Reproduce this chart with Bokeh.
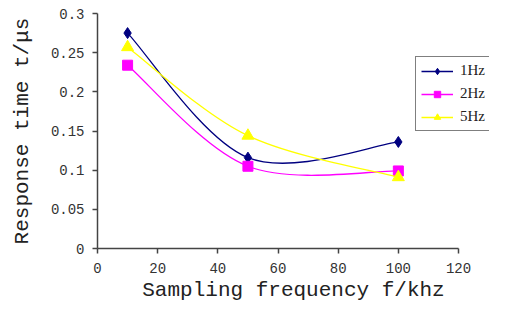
from bokeh.plotting import figure
from bokeh.models import Legend, LegendItem, FixedTicker, ColumnDataSource
from bokeh.embed import file_html
from bokeh.resources import INLINE

# ---- data ----
freq = [10, 50, 100]
series_names = ["1Hz", "2Hz", "5Hz"]
t_1hz = [0.275, 0.116, 0.136]
t_2hz = [0.234, 0.105, 0.099]
t_5hz = [0.257, 0.144, 0.091]
x_ticks = [0, 20, 40, 60, 80, 100, 120]
y_ticks = [0, 0.05, 0.1, 0.15, 0.2, 0.25, 0.3]
y_tick_labels = ["0", "0.05", "0.1", "0.15", "0.2", "0.25", "0.3"]

colors = ["#000080", "#FF00FF", "#FFFF00"]
markers = ["diamond", "square", "triangle"]
msizes = [11, 10, 12]

# frame extends right of x=120 (axis bounded to 0..120) so the legend can sit there
p = figure(width=489, height=306, output_backend="svg", toolbar_location=None,
           x_range=(0, 130.3), y_range=(0, 0.3),
           min_border_left=97, min_border_right=0, min_border_top=13, min_border_bottom=58)
p.outline_line_color = None
p.xgrid.visible = False
p.ygrid.visible = False
p.background_fill_color = "white"


def smooth_segments(xs, ys):
    # smoothed line: cubic Bezier segments through the data points
    n = len(xs)
    out = dict(x0=[], y0=[], x1=[], y1=[], cx0=[], cy0=[], cx1=[], cy1=[])
    for i in range(n - 1):
        i0 = max(i - 1, 0)
        i3 = min(i + 2, n - 1)
        out["x0"].append(xs[i]); out["y0"].append(ys[i])
        out["x1"].append(xs[i + 1]); out["y1"].append(ys[i + 1])
        out["cx0"].append(xs[i] + (xs[i + 1] - xs[i0]) / 6)
        out["cy0"].append(ys[i] + (ys[i + 1] - ys[i0]) / 6)
        out["cx1"].append(xs[i + 1] - (xs[i3] - xs[i]) / 6)
        out["cy1"].append(ys[i + 1] - (ys[i3] - ys[i]) / 6)
    return out


items = []
for name, ys, c, m, s in zip(series_names, [t_1hz, t_2hz, t_5hz], colors, markers, msizes):
    src = ColumnDataSource(smooth_segments(freq, ys))
    p.bezier(x0="x0", y0="y0", x1="x1", y1="y1", cx0="cx0", cy0="cy0", cx1="cx1", cy1="cy1",
             source=src, line_color=c, line_width=1.3)
    leg_line = p.line(x=[float("nan")], y=[float("nan")], line_color=c, line_width=1.3)
    sc = p.scatter(freq, ys, marker=m, size=s, fill_color=c, line_color=c)
    items.append(LegendItem(label=name, renderers=[leg_line, sc]))

legend = Legend(items=items, location=(318, 117))
legend.border_line_color = "black"
legend.border_line_width = 1
legend.background_fill_alpha = 1
legend.padding = 5
legend.margin = 0
legend.spacing = 6
legend.glyph_width = 32
legend.glyph_height = 16
legend.label_height = 16
legend.label_standoff = 7
legend.label_text_font = "Liberation Serif"
legend.label_text_font_size = "15px"
legend.label_text_color = "#222222"
p.add_layout(legend, "center")

for ax in (p.xaxis[0], p.yaxis[0]):
    ax.axis_line_color = "#444444"
    ax.axis_line_width = 1.5
    ax.major_tick_line_color = "#444444"
    ax.major_tick_line_width = 1.5
    ax.major_tick_out = 5
    ax.major_tick_in = 0
    ax.minor_tick_line_color = None
    ax.major_label_text_font = "Liberation Mono"
    ax.major_label_text_font_size = "14px"
    ax.major_label_text_color = "#333333"
    ax.axis_label_text_font = "Liberation Mono"
    ax.axis_label_text_font_size = "21px"
    ax.axis_label_text_font_style = "normal"
    ax.axis_label_text_color = "#222222"

p.xaxis.bounds = (0, 120)
p.xaxis.ticker = FixedTicker(ticks=x_ticks)
p.yaxis.ticker = FixedTicker(ticks=y_ticks)
p.yaxis.major_label_overrides = {v: l for v, l in zip(y_ticks, y_tick_labels)}
p.xaxis.axis_label = "Sampling frequency f/khz"
p.yaxis.axis_label = "Response time t/μs"
p.xaxis.major_label_standoff = 9
p.yaxis.major_label_standoff = 8
p.xaxis.axis_label_standoff = 3
p.yaxis.axis_label_standoff = 14

open("out.html", "w").write(file_html(p, INLINE))
